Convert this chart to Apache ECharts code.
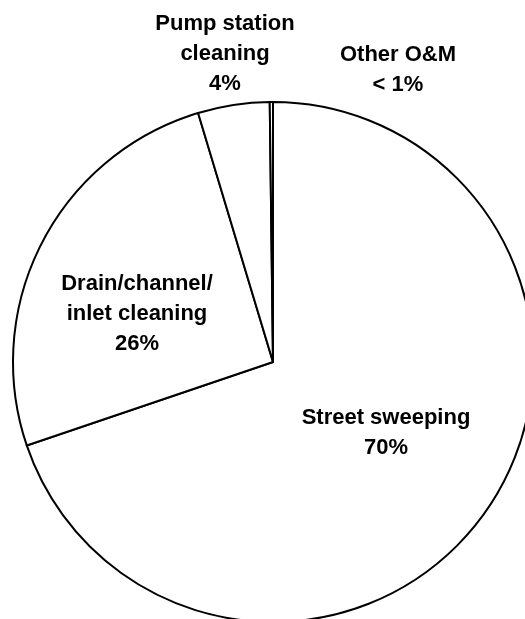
<!DOCTYPE html>
<html>
<head>
<meta charset="utf-8">
<style>
  html, body { margin: 0; padding: 0; background: #fff; }
  #chart { width: 525px; height: 619px; }
</style>
<script src="https://cdn.jsdelivr.net/npm/echarts@6/dist/echarts.min.js"></script>
</head>
<body>
<div id="chart"></div>
<script>
// O&M activity shares (percent of total effort)
const categories = ['Street sweeping', 'Drain/channel/\ninlet cleaning', 'Pump station\ncleaning', 'Other O&M'];
const shares = [69.8, 25.55, 4.45, 0.2];

// Label anchor points (block centres) for each slice, in pixels
const labelSpots = [[386, 433], [137, 314], [225, 54], [398, 70]];

const total = shares.reduce((a, b) => a + b, 0);
const pctText = v => {
  const p = v / total * 100;
  return p < 1 ? '< 1%' : Math.round(p) + '%';
};

const chart = echarts.init(document.getElementById('chart'), null, { renderer: 'canvas' });
chart.setOption({
  animation: false,
  backgroundColor: '#ffffff',
  series: [{
    type: 'pie',
    center: [273, 362],
    radius: [0, 260],
    startAngle: 90,
    clockwise: true,
    silent: true,
    avoidLabelOverlap: false,
    data: categories.map((name, i) => ({ name, value: shares[i] })),
    itemStyle: { color: '#ffffff', borderColor: '#000000', borderWidth: 2 },
    label: {
      show: true,
      position: 'outside',
      formatter: p => p.name + '\n' + pctText(p.value),
      color: '#000000',
      fontFamily: '"Liberation Sans", Arial, sans-serif',
      fontWeight: 'bold',
      fontSize: 22,
      lineHeight: 30,
      align: 'center'
    },
    labelLine: { show: false },
    labelLayout: params => ({
      x: labelSpots[params.dataIndex][0],
      y: labelSpots[params.dataIndex][1],
      align: 'center',
      verticalAlign: 'middle'
    })
  }]
});
</script>
</body>
</html>
